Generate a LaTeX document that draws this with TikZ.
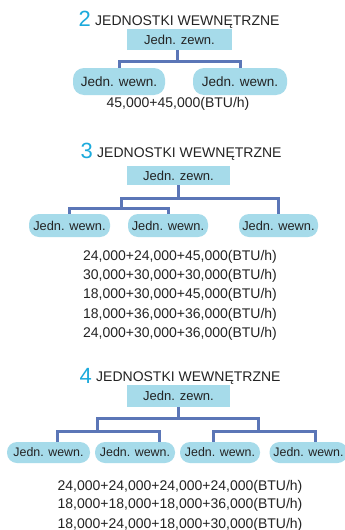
\documentclass[tikz,border=0pt]{standalone}
\usepackage{fontspec}
\setmainfont{Liberation Sans}
\definecolor{boxblue}{RGB}{166,219,234}
\definecolor{lineblue}{RGB}{91,118,183}
\definecolor{digitcyan}{RGB}{27,170,220}
\definecolor{txt}{RGB}{35,35,35}
\tikzset{
  zbox/.style={fill=boxblue, inner sep=0pt, text=txt, font=\fontsize{13}{15}\selectfont},
  wpill/.style={fill=boxblue, inner sep=0pt, rounded corners=11pt, text=txt, font=\fontsize{13.5}{15}\selectfont},
  wpillsm/.style={wpill, rounded corners=10pt, font=\fontsize{12.8}{15}\selectfont},
  wpillxs/.style={wpill, rounded corners=10pt, font=\fontsize{12.4}{15}\selectfont},
  conn/.style={draw=lineblue, line width=3pt},
  ttl/.style={anchor=base west, inner sep=0pt, text=txt, font=\fontsize{14}{16}\selectfont},
  dgt/.style={anchor=base east, inner sep=0pt, text=digitcyan, font=\fontsize{22}{24}\selectfont},
  num/.style={anchor=base, inner sep=0pt, text=txt, font=\fontsize{14}{16}\selectfont}
}
\begin{document}
\begin{tikzpicture}[x=1pt,y=-1pt]
\useasboundingbox (0,0) rectangle (345,530);
\clip (0,0) rectangle (345,530);
\fill[white] (0,0) rectangle (345,530);
% ---- section 2 ----
\node[dgt] (d2) at (91,26) {2};
\node[ttl] (t2) at (95,25) {JEDNOSTKI WEWNĘTRZNE};
\node[zbox, minimum width=105pt, minimum height=21pt] (z2) at (179.5,39.5) {Jedn. zewn.};
\node[wpill, minimum width=92pt, minimum height=27pt] (w21) at (119,81.5) {Jedn. wewn.};
\node[wpill, minimum width=94pt, minimum height=27pt] (w22) at (240,81.5) {Jedn. wewn.};
\coordinate (h2) at (177,61);
\draw[conn] (h2 |- z2.south) -- (h2);
\draw[conn] (w21.north) |- (h2) -| (w22.north);
\node[num] (n2) at (178,107) {45,000+45,000(BTU/h)};
% ---- section 3 ----
\node[dgt] (d3) at (93,158) {3};
\node[ttl] (t3) at (97,157) {JEDNOSTKI WEWNĘTRZNE};
\node[zbox, minimum width=103pt, minimum height=19pt] (z3) at (178.5,175.5) {Jedn. zewn.};
\node[wpillsm, minimum width=81pt, minimum height=23pt] (w31) at (69.5,225.5) {Jedn. wewn.};
\node[wpillsm, minimum width=80pt, minimum height=23pt] (w32) at (168,225.5) {Jedn. wewn.};
\node[wpillsm, minimum width=79pt, minimum height=23pt] (w33) at (278.5,225.5) {Jedn. wewn.};
\coordinate (h3) at (178,198);
\coordinate (h3a) at (121,208);
\draw[conn] (h3 |- z3.south) -- (h3);
\draw[conn] (h3a) |- (h3) -| (w33.north);
\draw[conn] (w31.north) |- (h3a) -| (w32.north);
\node[num] (n31) at (180,260) {24,000+24,000+45,000(BTU/h)};
\node[num] (n32) at (180,279) {30,000+30,000+30,000(BTU/h)};
\node[num] (n33) at (180,298) {18,000+30,000+45,000(BTU/h)};
\node[num] (n34) at (180,318) {18,000+36,000+36,000(BTU/h)};
\node[num] (n35) at (180,337) {24,000+30,000+36,000(BTU/h)};
% ---- section 4 ----
\node[dgt] (d4) at (92,383) {4};
\node[ttl] (t4) at (96,381) {JEDNOSTKI WEWNĘTRZNE};
\node[zbox, minimum width=103pt, minimum height=22pt] (z4) at (178.5,396) {Jedn. zewn.};
\node[wpillxs, minimum width=83pt, minimum height=21pt] (w41) at (48.5,452.5) {Jedn. wewn.};
\node[wpillxs, minimum width=80pt, minimum height=21pt] (w42) at (135,452.5) {Jedn. wewn.};
\node[wpillxs, minimum width=80pt, minimum height=21pt] (w43) at (220,452.5) {Jedn. wewn.};
\node[wpillxs, minimum width=78pt, minimum height=21pt] (w44) at (308.5,452.5) {Jedn. wewn.};
\coordinate (h4) at (178,418);
\coordinate (h4a) at (97,431);
\coordinate (h4b) at (258,431);
\coordinate (c41) at (57,431);
\coordinate (c42) at (159,431);
\coordinate (c43) at (213,431);
\coordinate (c44) at (315,431);
\draw[conn] (h4 |- z4.south) -- (h4);
\draw[conn] (h4a) |- (h4) -| (h4b);
\draw[conn] (c41 |- w41.north) -- (c41) -- (c42) -- (c42 |- w42.north);
\draw[conn] (c43 |- w43.north) -- (c43) -- (c44) -- (c44 |- w44.north);
\node[num] (n41) at (180,490) {24,000+24,000+24,000+24,000(BTU/h)};
\node[num] (n42) at (180,508) {18,000+18,000+18,000+36,000(BTU/h)};
\node[num] (n43) at (180,528) {18,000+24,000+18,000+30,000(BTU/h)};
\end{tikzpicture}
\end{document}
